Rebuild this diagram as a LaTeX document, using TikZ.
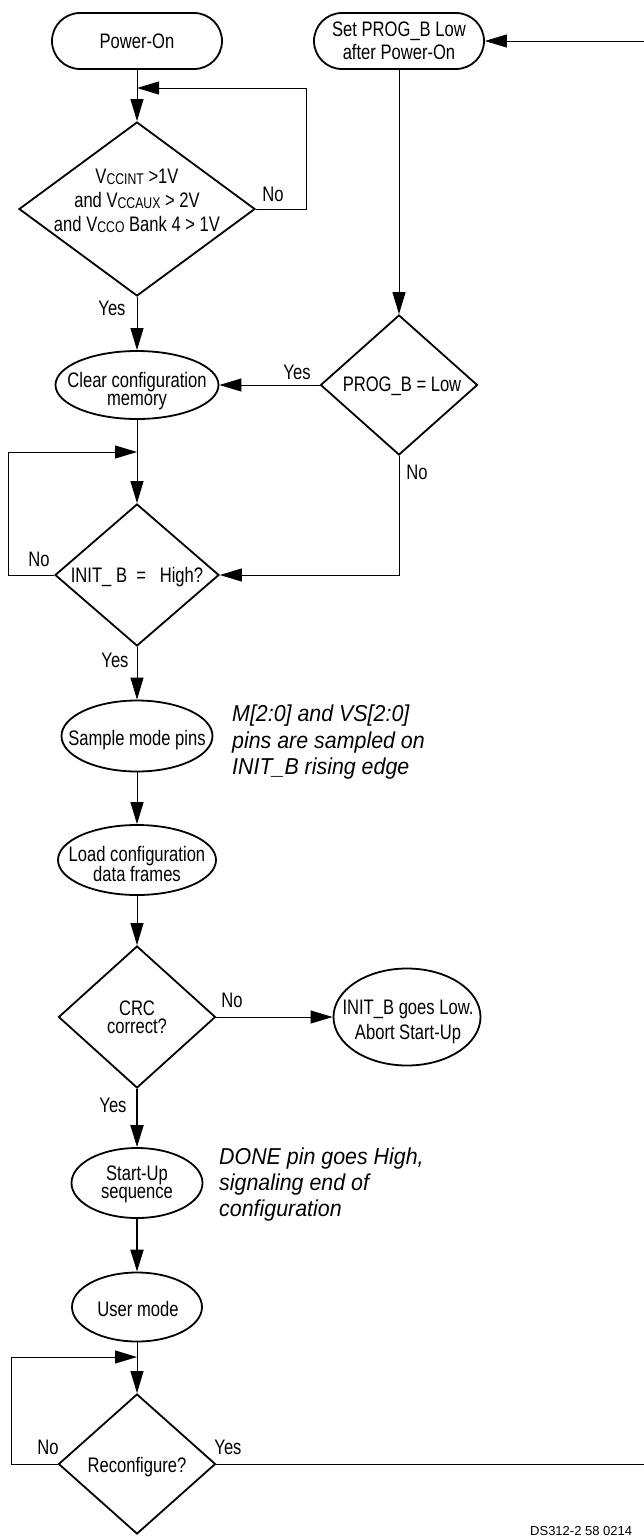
\documentclass[tikz,border=0pt]{standalone}
\usepackage{fontspec}
\setmainfont{Liberation Sans}[FakeStretch=0.79]
\newfontfamily\notefont{Liberation Sans}[FakeStretch=0.93]
\newfontfamily\footfont{Liberation Sans}
\usetikzlibrary{shapes.geometric,arrows.meta}
\newcommand\vsub[1]{\raisebox{-1.5pt}{\fontsize{15.5}{15.5}\selectfont #1}}
\begin{document}
\begin{tikzpicture}[x=1pt,y=-1pt,
  shapeline/.style={draw=black, line width=1.8pt},
  term/.style={shapeline, rectangle, rounded corners=28pt, minimum width=170pt, minimum height=56pt, inner sep=0pt, align=center, font=\fontsize{21}{22.7}\selectfont},
  oval/.style={shapeline, ellipse, inner sep=0pt},
  dec/.style={shapeline, diamond, inner sep=0pt},
  txt/.style={inner sep=0pt, align=center, font=\fontsize{21}{18.2}\selectfont},
  lbl/.style={inner sep=0pt, font=\fontsize{21}{21}\selectfont},
  note/.style={inner sep=0pt, align=left, anchor=west, font=\notefont\itshape\fontsize{23}{26.5}\selectfont},
  conn/.style={line width=1pt, -{Triangle[length=22pt,width=13pt]}},
  plainline/.style={line width=1pt},
  boldconn/.style={line width=2pt, -{Triangle[length=22pt,width=13pt]}},
]
\fill[white] (0,0) rectangle (644,1537);
\useasboundingbox (0,0) rectangle (644,1537);

% shapes
\node[term] (pon) at (137,41) {Power-On};
\node[term] (setp) at (399,41) {Set PROG\_B Low\\after Power-On};

\node[dec, minimum width=236pt, minimum height=174pt] (vcc) at (137,209) {};
\node[txt, font=\fontsize{21}{24}\selectfont] (vcct) at (137,201) {V\vsub{CCINT} >1V\\and V\vsub{CCAUX} > 2V\\and V\vsub{CCO} Bank 4 > 1V};

\node[oval, minimum width=163pt, minimum height=68pt] (clr) at (137,385) {};
\node[txt] (clrt) at (137,391) {Clear configuration\\memory};

\node[dec, minimum width=157pt, minimum height=140pt] (prog) at (399,385) {};
\node[txt] (progt) at (402,386) {PROG\_B = Low};

\node[dec, minimum width=164pt, minimum height=142pt] (init) at (137,575) {};
\node[txt] (initt) at (137,577.5) {INIT\_ B\ \ =\ \ \ High?};

\node[oval, minimum width=151pt, minimum height=71pt] (smp) at (137,736) {};
\node[txt] (smpt) at (137,740.5) {Sample mode pins};

\node[oval, minimum width=158pt, minimum height=70pt] (load) at (137,860) {};
\node[txt] (loadt) at (137,864) {Load configuration\\data frames};

\node[dec, minimum width=157pt, minimum height=142pt] (crc) at (137,1017) {};
\node[txt, font=\fontsize{21}{18.3}\selectfont] (crct) at (137,1017.5) {CRC\\correct?};

\node[oval, minimum width=147pt, minimum height=97pt] (abort) at (407,1017) {};
\node[txt, font=\fontsize{21}{24.3}\selectfont] (abortt) at (408,1022) {INIT\_B goes Low.\\Abort Start-Up};

\node[oval, minimum width=131pt, minimum height=70pt] (start) at (137,1183) {};
\node[txt] (startt) at (137,1184) {Start-Up\\sequence};

\node[oval, minimum width=130pt, minimum height=69pt] (user) at (137,1307) {};
\node[txt] (usert) at (138,1309) {User mode};

\node[dec, minimum width=157pt, minimum height=140pt] (rec) at (137,1464) {};
\node[txt] (rect) at (137,1467.5) {Reconfigure?};

% notes
\node[note] (n1) at (232,742.4) {M[2:0] and VS[2:0]\\pins are sampled on\\INIT\_B rising edge};
\node[note, font=\notefont\itshape\fontsize{23}{26}\selectfont] (n2) at (219,1185) {DONE pin goes High,\\signaling end of\\configuration};

% coordinates
\coordinate (r1) at (306,88);
\coordinate (j1) at (137,88);
\coordinate (l2) at (8,452);
\coordinate (j2) at (137,452);
\coordinate (l3) at (11,1357);
\coordinate (j3) at (137,1357);
\coordinate (re) at (644,1464);
\coordinate (rs) at (644,41);

% connectors
\draw[conn] (pon.south) -- (vcc.north);
\draw[conn] (vcc.east) -| (r1) -- (j1);
\draw[conn] (vcc.south) -- (clr.north);
\draw[conn] (setp.south) -- (prog.north);
\draw[conn] (prog.west) -- (clr.east);
\draw[conn] (clr.south) -- (init.north);
\draw[conn] (init.west) -| (l2) -- (j2);
\draw[conn] (prog.south) |- (init.east);
\draw[conn] (init.south) -- (smp.north);
\draw[conn] (smp.south) -- (load.north);
\draw[conn] (load.south) -- (crc.north);
\draw[conn] (crc.east) -- (abort.west);
\draw[boldconn] (crc.south) -- (start.north);
\draw[boldconn] (start.south) -- (user.north);
\draw[conn] (user.south) -- (rec.north);
\draw[conn] (rec.west) -| (l3) -- (j3);
\draw[plainline] (rec.east) -- (re);
\draw[conn] (rs) -- (setp.east);

% labels
\node[lbl] (lno1) at (273,194) {No};
\node[lbl] (lyes1) at (112,308) {Yes};
\node[lbl] (lyes2) at (297,372) {Yes};
\node[lbl] (lno2) at (417,472) {No};
\node[lbl] (lno3) at (39,559) {No};
\node[lbl] (lyes3) at (115,660) {Yes};
\node[lbl] (lno4) at (232,1000) {No};
\node[lbl] (lyes4) at (113,1105) {Yes};
\node[lbl] (lno5) at (48,1447) {No};
\node[lbl] (lyes5) at (228,1447) {Yes};

\node[inner sep=0pt, anchor=base west, font=\footfont\fontsize{13}{13}\selectfont] (foot) at (530,1535) {DS312-2 58 0214};
\end{tikzpicture}
\end{document}
